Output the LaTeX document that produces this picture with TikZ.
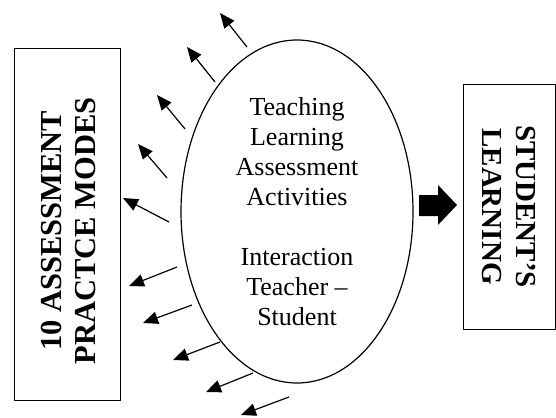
\documentclass[tikz,border=0pt]{standalone}
\usepackage{fontspec}
\setmainfont{Liberation Serif}
\usetikzlibrary{arrows.meta,shapes.geometric}
\tikzset{
  smallarrow/.style={line width=1.2pt,-{Triangle[length=15pt,width=12.5pt]}},
  boxframe/.style={draw,line width=0.9pt,inner sep=0pt},
  modetext/.style={inner sep=0pt,align=center,font=\bfseries\fontsize{30.5}{34}\selectfont},
  learnbox/.style={draw,line width=0.9pt,inner sep=0pt,align=center,font=\bfseries\fontsize{29}{34}\selectfont},
  activity/.style={draw,ellipse,line width=1.2pt,inner sep=0pt,align=center,font=\fontsize{26}{30}\selectfont}
}
\begin{document}
\begin{tikzpicture}[x=1pt,y=-1pt]
\useasboundingbox (0,0) rectangle (556,417);
\node[boxframe,minimum width=106pt,minimum height=352pt] (modes) at (67,224) {};
\node[modetext,rotate=90] (modestext) at (69,231) {10 ASSESSMENT\\PRACTCE MODES};
\node[learnbox,rotate=-90,minimum width=245pt,minimum height=92pt] (learning) at (509.3,206.5) {STUDENT’S\\LEARNING};
\node[activity,minimum width=232pt,minimum height=343pt] (ellipse) at (297,211.5) {Teaching\\Learning\\Assessment\\Activities\\[30pt]Interaction\\Teacher –\\Student};
% block arrow
\coordinate (bigtip) at (457,205);
\fill (419,195) -- (438,195) -- (438,185) -- (bigtip) -- (438,225) -- (438,216) -- (419,216) -- cycle;
% small arrows
\foreach \i/\sx/\sy/\ex/\ey in {
  1/247/47/220/13,
  2/215/82/187/47,
  3/185/129/157/95,
  4/167/178/138/144,
  5/169/222/123/198,
  6/177/267/129/286,
  7/192/305/143/323,
  8/220/342/173/360,
  9/253/373/206/392,
  10/289/397/241/415}{
  \coordinate (s\i) at (\sx,\sy);
  \coordinate (e\i) at (\ex,\ey);
  \draw[smallarrow] (s\i) -- (e\i);
}
\end{tikzpicture}
\end{document}
